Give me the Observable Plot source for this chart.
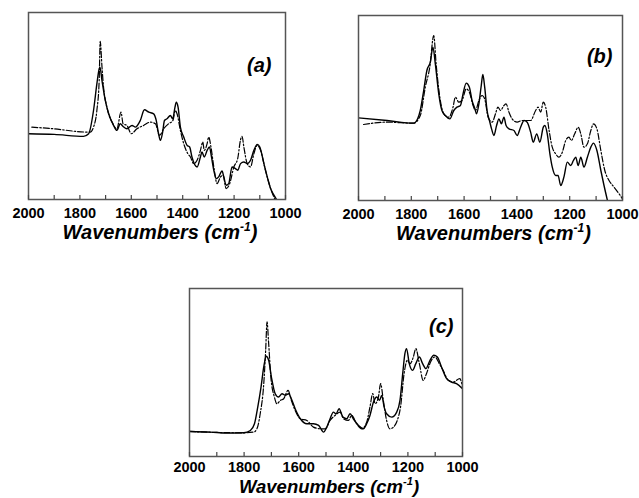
<!DOCTYPE html>
<html><head><meta charset="utf-8">
<script src="https://cdn.jsdelivr.net/npm/d3@7"></script>
<script src="https://cdn.jsdelivr.net/npm/@observablehq/plot@0.6"></script>
<style>
body{margin:0;background:#fff;}
#wrap{position:relative;width:639px;height:498px;background:#fff;overflow:hidden;}
#wrap > div{position:absolute;}
</style></head><body>
<div id="wrap"><div id="pa" style="left:0;top:0"></div><div id="pb" style="left:330px;top:0"></div><div id="pc" style="left:160px;top:260px"></div></div>
<script>
// Panel (a)
const aSolidWn = [2000,1900,1786,1766,1747,1734,1725,1722,1714,1701,1688,1669,1656,1643,1632,1617,1597,1584,1565,1549,1532,1513,1503,1494,1487,1478,1471,1461,1448,1439,1430,1425,1418,1409,1396,1383,1373,1364,1344,1331,1325,1316,1305,1296,1288,1279,1269,1260,1247,1240,1231,1221,1208,1195,1186,1175,1162,1149,1136,1123,1110,1100,1084,1071,1058,1045,1035];
const aSolidAbs = [198,196,190,198,268,348,393,398,358,298,258,223,208,228,220,213,223,218,238,270,263,258,238,198,178,203,238,243,253,243,278,293,278,218,188,163,158,128,98,128,143,128,148,158,128,88,63,68,86,68,43,48,98,93,88,108,113,108,118,148,166,158,108,68,33,13,0];
const aDashWn = [1987,1903,1773,1760,1747,1734,1725,1721,1714,1708,1695,1675,1656,1640,1632,1617,1600,1578,1552,1526,1506,1490,1474,1455,1438,1429,1422,1409,1396,1380,1370,1357,1344,1331,1322,1316,1305,1299,1290,1279,1266,1253,1243,1231,1217,1201,1186,1175,1169,1162,1149,1136,1123,1110,1097,1078,1058,1041];
const aDashAbs = [218,213,203,203,218,268,358,476,398,338,278,233,213,263,228,223,198,213,223,233,228,193,213,228,238,268,258,208,168,138,128,108,118,148,173,148,168,188,158,98,48,68,73,33,48,98,123,180,190,158,108,98,138,163,148,88,33,0];
// Panel (b)
const bSolidWn = [2000,1892,1791,1776,1766,1753,1741,1728,1718,1709,1696,1684,1671,1654,1639,1627,1614,1604,1592,1580,1570,1559,1553,1544,1535,1529,1522,1513,1504,1496,1487,1477,1468,1459,1449,1441,1430,1411,1399,1386,1373,1361,1348,1338,1325,1313,1300,1294,1285,1275,1266,1253,1244,1234,1222,1209,1196,1186,1177,1168,1158,1146,1133,1120,1110,1097,1082,1070,1057];
const bSolidAbs = [248,240,232,245,270,330,390,415,460,410,320,270,255,245,270,280,285,320,352,340,300,275,260,290,345,378,340,270,240,215,195,225,245,230,250,225,215,210,195,220,240,235,205,175,200,175,220,225,200,140,100,75,75,45,70,115,105,120,130,105,130,100,130,160,172,150,90,45,0];
const bDashWn = [1981,1892,1791,1766,1747,1730,1715,1706,1692,1677,1658,1642,1633,1620,1608,1592,1580,1566,1557,1544,1532,1522,1509,1494,1481,1472,1462,1449,1441,1430,1418,1399,1380,1367,1348,1329,1320,1310,1300,1291,1278,1266,1253,1241,1228,1215,1203,1194,1181,1168,1158,1146,1133,1120,1110,1097,1082,1067,1051,1032,1013,1000];
const bDashAbs = [228,235,232,255,340,400,495,410,310,260,250,280,310,295,300,335,325,285,270,300,315,305,250,235,260,280,270,285,290,265,245,235,240,240,240,270,280,265,295,280,210,160,140,130,145,180,190,180,200,220,200,160,170,210,230,215,150,90,60,40,20,5];
// Panel (c)
const cSolidWn = [2000,1923,1862,1801,1777,1762,1750,1738,1728,1719,1710,1700,1686,1674,1661,1649,1637,1627,1613,1594,1570,1546,1527,1509,1497,1485,1473,1463,1452,1438,1424,1412,1400,1381,1363,1351,1339,1326,1314,1304,1296,1287,1278,1259,1241,1229,1219,1211,1205,1195,1183,1171,1158,1146,1134,1119,1105,1092,1077,1058,1040,1022,1000];
const cSolidAbs = [75,73,70,71,78,98,148,208,268,300,288,238,188,178,188,183,188,173,143,113,98,98,93,73,88,113,133,128,143,118,113,128,113,93,83,98,123,163,178,168,183,148,128,118,133,168,248,308,323,278,258,278,298,278,263,288,303,298,268,233,223,218,203];
const cDashWn = [2000,1900,1800,1765,1753,1741,1728,1721,1716,1710,1702,1689,1680,1667,1655,1639,1627,1613,1594,1570,1546,1521,1503,1485,1467,1448,1436,1418,1406,1388,1369,1351,1339,1329,1320,1308,1300,1290,1278,1266,1253,1239,1227,1214,1202,1192,1180,1171,1158,1144,1132,1117,1101,1085,1071,1052,1034,1010,1000];
const cDashAbs = [75,72,71,73,83,128,218,318,403,338,238,178,158,168,173,198,168,138,113,108,88,83,83,108,123,133,113,108,123,98,83,103,148,188,158,178,218,168,108,83,88,108,148,248,288,278,298,323,278,228,248,283,298,278,258,228,223,233,208];

const majorTicks = [2000,1800,1600,1400,1200,1000];
const minorTicks = [2000,1900,1800,1700,1600,1500,1400,1300,1200,1100,1000];
const xTitle = "Wavenumbers (cm";

const rows = (wn, v) => wn.map((w, i) => ({wn: w, v: v[i]}));
const FONT = "'Liberation Sans', Arial, sans-serif";

function panel(cfg) {
  const innerH = cfg.height - cfg.mt - cfg.mb;
  const svg = Plot.plot({
    width: cfg.width, height: cfg.height,
    marginLeft: cfg.ml, marginRight: cfg.mr, marginTop: cfg.mt, marginBottom: cfg.mb,
    x: {domain: [2000, 1000]},
    y: {domain: [0, cfg.yMax], axis: null},
    style: {fontFamily: FONT, background: "white", color: "black", overflow: "visible"},
    marks: [
      Plot.line(rows(cfg.sw, cfg.sv), {x: "wn", y: "v", stroke: "#000", strokeWidth: 1.4, curve: "monotone-x", clip: true}),
      Plot.line(rows(cfg.dw, cfg.dv), {x: "wn", y: "v", stroke: "#000", strokeWidth: 1.2, strokeDasharray: "6,2,1.5,2", curve: "monotone-x", clip: true}),
      Plot.frame({stroke: "#555", strokeWidth: 1.5}),
      Plot.tickX(minorTicks, {x: d => d, stroke: "#444", strokeWidth: 1.2, insetTop: innerH - 4}),
      Plot.axisX(majorTicks, {tickSize: 0, tickPadding: cfg.tp, fontSize: 14.5, fontWeight: "bold", fill: "#000", label: null, tickFormat: d => String(d)}),
      Plot.text([cfg.letter], {text: d => d, frameAnchor: "top-right", dx: cfg.ldx, dy: cfg.ldy, textAnchor: "end", lineAnchor: "middle", fontSize: 20, fontWeight: "bold", fontStyle: "italic", fill: "#000"}),
      Plot.text([xTitle], {text: d => d, frameAnchor: "bottom", dx: 3, dy: cfg.tdy, lineAnchor: "middle", fontSize: cfg.tfs, fontWeight: "bold", fontStyle: "italic", fill: "#000"})
    ]
  });
  const shift = Math.round(cfg.tfs * 0.42);
  d3.select(svg).selectAll("text").filter(function() { return this.textContent === xTitle; }).each(function() {
    const t = d3.select(this);
    t.append("tspan").attr("dy", -shift).attr("font-size", cfg.tfs * 0.6).text("-1");
    t.append("tspan").attr("dy", shift).attr("font-size", cfg.tfs).text(")");
  });
  document.getElementById(cfg.el).appendChild(svg);
}

panel({el: "pa", width: 300, height: 245, ml: 28, mr: 15, mt: 12, mb: 46, yMax: 563, tp: 8,
  sw: aSolidWn, sv: aSolidAbs, dw: aDashWn, dv: aDashAbs, letter: "(a)", ldx: -14, ldy: 53, tdy: 33, tfs: 20});
panel({el: "pb", width: 309, height: 245, ml: 28, mr: 17, mt: 15, mb: 45, yMax: 555, tp: 8,
  sw: bSolidWn, sv: bSolidAbs, dw: bDashWn, dv: bDashAbs, letter: "(b)", ldx: -10, ldy: 41, tdy: 33, tfs: 20});
panel({el: "pc", width: 320, height: 238, ml: 29, mr: 18, mt: 28, mb: 42, yMax: 503, tp: 5,
  sw: cSolidWn, sv: cSolidAbs, dw: cDashWn, dv: cDashAbs, letter: "(c)", ldx: -9, ldy: 38, tdy: 30.5, tfs: 18.5});
</script>
</body></html>
